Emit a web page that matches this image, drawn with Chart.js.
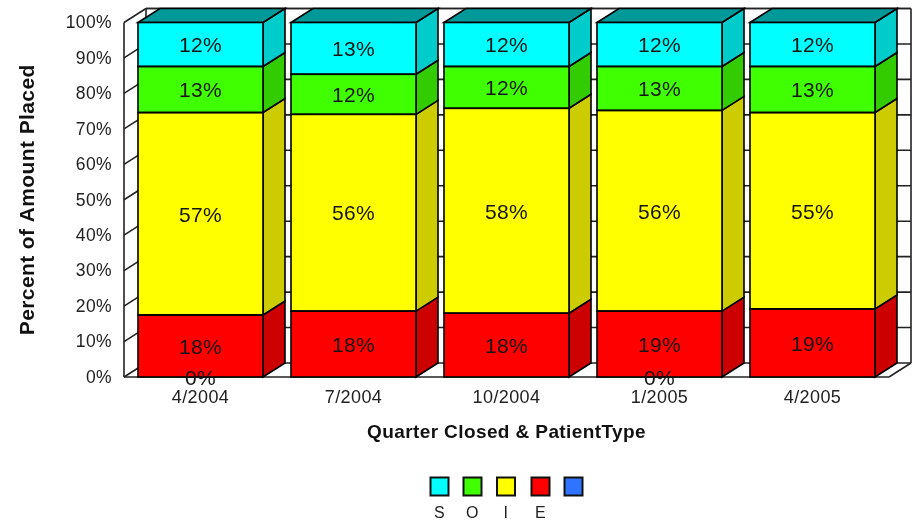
<!DOCTYPE html>
<html><head><meta charset="utf-8">
<style>html,body{margin:0;padding:0;background:#fff}#w{width:917px;height:523px;position:relative}canvas{filter:blur(0.45px)}</style>
<script src="https://cdn.jsdelivr.net/npm/chart.js@4"></script></head>
<body><div id="w"><canvas id="c" width="917" height="523"></canvas></div>
<script>
const categories=["4/2004","7/2004","10/2004","1/2005","4/2005"];
const legendNames=["S","O","I","E",""];
const seriesS=[12.4,14.6,12.4,12.4,12.4];
const seriesO=[13,11.3,11.8,12.4,13];
const seriesI=[57.1,55.5,57.8,56.6,55.4];
const seriesE=[17.5,18.6,18,18.6,19.2];
const seriesBlank=[0,0,0,0,0];
const labelsS=["12%","13%","12%","12%","12%"];
const labelsO=["13%","12%","12%","13%","13%"];
const labelsI=["57%","56%","58%","56%","55%"];
const labelsE=["18%","18%","18%","19%","19%"];
const labelsBlank=["0%","","","0%",""];
const yTicks=[0,10,20,30,40,50,60,70,80,90,100];
const FF='"Liberation Sans",Arial,sans-serif';
const DX=22,DY=14;
const mk=(name,data,txt,c,side,top)=>({label:name,data,txt,backgroundColor:c,side,top,borderWidth:0,barPercentage:0.817,categoryPercentage:1,stack:'a'});
const datasets=[
 mk(legendNames[4],seriesBlank,labelsBlank,'#2F74FF','#2458C8','#2458C8'),
 mk(legendNames[3],seriesE,labelsE,'#FF0000','#CC0000','#CC0000'),
 mk(legendNames[2],seriesI,labelsI,'#FFFF00','#CCCC00','#CCCC00'),
 mk(legendNames[1],seriesO,labelsO,'#40FF00','#33CC00','#33CC00'),
 mk(legendNames[0],seriesS,labelsS,'#00FFFF','#00CCCC','#009999')
];
const line=(g,x1,y1,x2,y2)=>{g.beginPath();g.moveTo(x1,y1);g.lineTo(x2,y2);g.stroke();};
const poly=(g,p,fill)=>{g.beginPath();p.forEach((q,i)=>i?g.lineTo(q[0],q[1]):g.moveTo(q[0],q[1]));g.closePath();g.fillStyle=fill;g.fill();g.stroke();};
const deco={id:'deco',
 beforeDraw(ch){ch.ctx.letterSpacing='0.4px';},
 beforeDatasetsDraw(ch){
  const g=ch.ctx,a=ch.chartArea,y=ch.scales.y;g.save();
  g.strokeStyle='#222';g.lineWidth=1.6;
  line(g,a.left+DX,a.top-DY,a.right+DX,a.top-DY);
  line(g,a.right+DX,a.top-DY,a.right+DX,a.bottom-DY);
  line(g,a.left+DX,a.top-DY,a.left+DX,a.bottom-DY);
  line(g,a.left,a.top,a.left,a.bottom);
  yTicks.forEach(v=>{const p=y.getPixelForValue(v);
    line(g,a.left,p,a.left+DX,p-DY);
    line(g,a.left+DX,p-DY,a.right+DX,p-DY);});
  line(g,a.right,a.bottom,a.right+DX,a.bottom-DY);
  line(g,a.left,a.bottom,a.right,a.bottom);
  g.strokeStyle='#000';g.lineWidth=1.6;
  ch.data.datasets.forEach((d,i)=>{
    ch.getDatasetMeta(i).data.forEach((b,j)=>{
      const r=b.x+b.width/2,l=b.x-b.width/2,t=b.y,bt=b.base;
      if(d.data[j]>0)poly(g,[[r,t],[r+DX,t-DY],[r+DX,bt-DY],[r,bt]],d.side);
      if(i===ch.data.datasets.length-1)poly(g,[[l,t],[l+DX,t-DY],[r+DX,t-DY],[r,t]],d.top);
    });
  });
  g.restore();
 },
 afterDatasetsDraw(ch){
  const g=ch.ctx;g.save();
  g.strokeStyle='#000';g.lineWidth=1.6;
  ch.data.datasets.forEach((d,i)=>{
    ch.getDatasetMeta(i).data.forEach((b,j)=>{
      if(d.data[j]>0)g.strokeRect(b.x-b.width/2,b.y,b.width,b.base-b.y);
    });
  });
  g.font='21px '+FF;g.fillStyle='#151515';g.textAlign='center';g.textBaseline='middle';
  ch.data.datasets.forEach((d,i)=>{
    ch.getDatasetMeta(i).data.forEach((b,j)=>{
      if(d.txt[j])g.fillText(d.txt[j],b.x,(b.y+b.base)/2+2);
    });
  });
  g.restore();
  const xs=[439.5,472.5,506,540.5,573.5];
  g.save();
  g.beginPath();g.rect(0,0,917,518);g.clip();
  legendNames.forEach((n,k)=>{
    const d=ch.data.datasets[ch.data.datasets.length-1-k];
    g.fillStyle=d.backgroundColor;g.strokeStyle='#111';g.lineWidth=2;
    g.fillRect(xs[k]-9,477.5,18,18);g.strokeRect(xs[k]-9,477.5,18,18);
    g.fillStyle='#222';g.font='16px '+FF;g.textAlign='center';g.textBaseline='middle';
    g.fillText(n,xs[k],514);
  });
  g.restore();
 }
};
new Chart(document.getElementById('c'),{type:'bar',
 data:{labels:categories,datasets},
 plugins:[deco],
 options:{responsive:false,animation:false,
  layout:{padding:{left:16,right:28,top:22,bottom:79}},
  plugins:{legend:{display:false},tooltip:{enabled:false}},
  scales:{
   x:{stacked:true,grid:{display:false,drawTicks:false,tickLength:0},border:{display:false},
      afterFit(s){s.height=67;},
      ticks:{color:'#222',font:{family:FF,size:18},padding:10,maxRotation:0},
      title:{display:true,text:'Quarter Closed & PatientType',color:'#111',font:{family:FF,size:19,weight:'bold'},padding:0}},
   y:{stacked:true,min:0,max:100,grid:{display:false,drawTicks:false,tickLength:0},border:{display:false},
      afterFit(s){s.width=108;},
      afterBuildTicks(s){s.ticks=yTicks.map(v=>({value:v}));},
      ticks:{color:'#222',font:{family:FF,size:17.5},padding:12,labelOffset:1,callback:v=>v+'%'},
      title:{display:true,text:'Percent of Amount Placed',color:'#111',font:{family:FF,size:21,weight:'bold'},padding:0}}
  }}});
</script></body></html>
